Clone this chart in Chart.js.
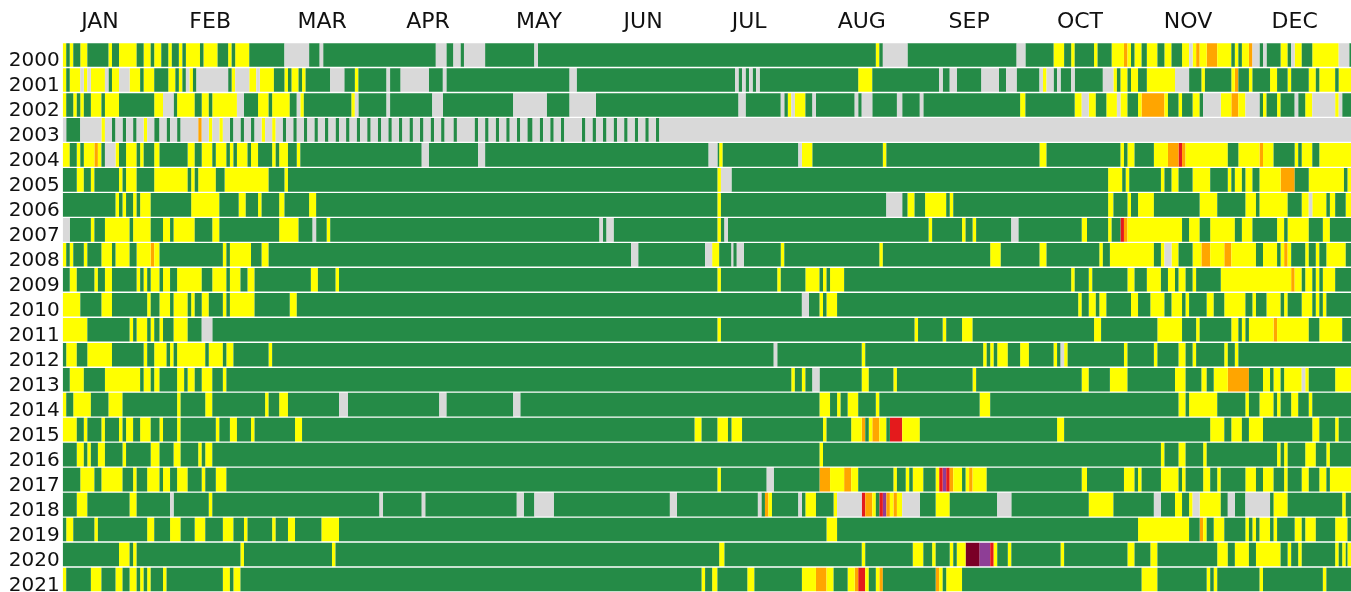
<!DOCTYPE html>
<html>
<head>
<meta charset="utf-8">
<title>Daily level calendar 2000-2021</title>
<script src="https://cdn.jsdelivr.net/npm/chart.js@4"></script>
<style>html,body{margin:0;padding:0;background:#fff}canvas{display:block}</style>
</head>
<body>
<canvas id="c" width="1351" height="592"></canvas>
<script>
const months = ["JAN","FEB","MAR","APR","MAY","JUN","JUL","AUG","SEP","OCT","NOV","DEC"];
const monthTicks = [10.6,41.9,73.7,103.8,135.3,164.9,195,227,257.5,289,319.7,350];
const years = ["2000","2001","2002","2003","2004","2005","2006","2007","2008","2009","2010","2011","2012","2013","2014","2015","2016","2017","2018","2019","2020","2021"];
const levelCodes = ["x","g","y","o","r","p","m"];
const levelColors = ["#d9d9d9","#258b47","#ffff00","#ffa500","#e41a1c","#8e3e96","#7a0026"];
// Each token: level code + day of year on which the run ends.
const runs2000 = "y1 g2 y3 g5 y7 g13 y14 g16 y21 g23 y25 g26 y28 g30 y31 g33 y34 g35 y39 g40 y44 g47 y48 g49 y53 g63 x70 g73 x74 g106 x109 g111 x113 g114 x120 g134 x135 g231 y232 g233 x240 g271 x273.5 g281.5 y284.5 g286.5 y287.5 g293 y294 g298 y301.5 o302.5 y303.5 g304.5 y306.5 g308 y311 g313 y315 g318 y320 x321 y322 o323 y325 o328 y332 g333 y334 g335 y337 o338 x340 g341 x342 g346 y348 g349 x350 y352 g355 y362.5 x365.5 g366";
const runs2001 = "y1 g2 y5 x6 y7 x8 y12 x13 g14 y16 x19 y22 g23 y26 g30 y32 g33 y34 g35 x36 y37 g38 x47 g48 y49 x53 y55 x56 y60 g63 y64 g65 y67 g68 y69 g76 x80 g83 y84 g92 x93 g96 x104 g108 x109 g144 x146 g191 x192 g193 x194 g195 x196 g197 x198 g226 y230 g249 x250 g252 x254 g261 x266 g268 x271 g277.5 x278.5 y279.5 x281.5 g282.5 x283.5 g286.5 x287.5 g295.5 x298.5 y299.5 g300.5 y302.5 g303.5 y305.5 g308 y316 x320 g323.5 y324.5 g332 y333 o334 g337 y338 g343 y345 g348 y349 g354 y356 g357 y361.5 g362.5 y366";
const runs2002 = "y1 g3 y4 g5 y6 g8 y11 g12 y16 g26 y28.5 x31.5 g32.5 y37.5 g39.5 y41.5 g42.5 y49.5 x51.5 g55.5 y58.5 g59.5 y64.5 g66.5 x67.5 y68.5 g82 y83 x84 g92 x93 g105 x108 g128 x137.5 g144 x151.5 g192 x194 g204 x205 g206 y207 x208 y211 g213 x214 g225 x226 g227 x230 g237 x238.5 g243.5 x244.5 g272 y273.5 g287.5 y289.5 x291.5 y293.5 g296.5 y299.5 x300.5 y302.5 g305.5 y306.5 o313 y314 g317 y318 g321 y323 g324 x329 y332 o334 y336 x340 g341 y342 g345 y346 g350 x351 g353 y355 x361.5 y362.5 x363.5 g366";
const runs2003 = "x1 g5 x11 y12 x14 g15 x17 g18 x20 g21 x23 y24 x26 g27.5 x29.5 g30.5 x32.5 g33.5 x38.5 o39.5 x41.5 y42.5 x44.5 y45.5 x47.5 g48.5 x50.5 g51.5 x53.5 g54.5 x56.5 y57.5 x59.5 y60.5 x62.5 g63.5 x65.5 g66.5 x68.5 g69.5 x71.5 g72.5 x74.5 g75.5 x77.5 g78.5 x80.5 g81.5 x83.5 g84.5 x86.5 g87.5 x89.5 g90.5 x92.5 g93.5 x95.5 g96.5 x98.5 g99.5 x101.5 g102.5 x104.5 g105.5 x107.5 g108.5 x111 g112 x117 g118 x120 g121 x123 g124 x126 g127 x129 g130 x132 g133.5 x135.5 g136.5 x138.5 g139.5 x141.5 g142.5 x147.5 g148.5 x150.5 g151.5 x153.5 g154.5 x156.5 g157.5 x159.5 g160.5 x162.5 g163.5 x165.5 g166.5 x168.5 g169.5 x366";
const runs2004 = "y2 g4 y5 g6 y9 o10 y11 g12 x15 y16 g18 y21 g22 y23 g26 y27.5 g35.5 y37.5 g39.5 y42.5 g43.5 y46.5 g47.5 y48.5 g49.5 y52.5 g53.5 y55.5 g59.5 y60.5 g61.5 y64 g66.5 y67.5 g102 x104 g118 x120 g183.5 x186 g186.5 y187.5 g209 x210 y213 g233 y234 g277.5 y279.5 g300.5 y301.5 g302.5 y304.5 g310 y314 o317 r318 o319 y331 g334 y340 o341 y344 g350 y351 g352 y355 g357 y366";
const runs2005 = "g4 y6 g8 y9 g16 y17 g18 y21 g26 y35.5 g36.5 y37.5 g38.5 y43.5 g46 y58.5 g63 y64 g186 y187 x190 g297 y301 g302 y303 g312 y313 g315 y317 g321 y326 g331 y332 g333 y335 g336 y338 g340 y346 o350 g354 y364 g365 y366";
const runs2006 = "g15 y16 g17 y18 g20 y21 g22 y25 g36.5 y44.5 g50 y52 g55.5 y56.5 g61.5 y63 g70 y72 g186 y187 g234 x238.5 g240 y242 g245 y251 g252 y253 g297 y298.5 g302.5 y303.5 g305.5 y310 g323 y328 g336 y339 g340 y348 g352 y354 x355 y359 g360 y361.5 g364.5 y366";
const runs2007 = "x2 g8 y9 g12 y19 g20 y25 g28.5 y30.5 g31.5 y37.5 g42.5 y44.5 g61.5 y67 g71 x72 g75 y76 g152.5 x153.5 g154.5 x156.5 g186 y187 g188 x189 g246 y247 g255.5 y256.5 g258.5 y259.5 g269.5 x271.5 g289.5 y291 g297 y298 g300.5 r301.5 o302.5 y318 g320 y323 g326 y333 g335 y338 g345 y347 g348 y354 g358 y360 g366";
const runs2008 = "y1 g2 y3 g6 y7 g11 y14 g15 y19 g21 y25 o26 y27.5 g45.5 y46.5 g47.5 y53.5 g56.5 y58.5 g161.5 x163.5 g182.5 x184.5 y186.5 g190 x190.5 g191.5 x193.5 g204 y205 g232 y233 g263.5 y266.5 g277.5 y279.5 g294.5 y295.5 g297.5 y310 g312 y313 x315 y317 g321 y323.5 o326 y330 o332 y339 g341 y345 g346 y347 o348 y349 g353 y354 g356 y357 g359 y364.5 g366";
const runs2009 = "g2 y4 g9 y10 g12 y14 g21 y22 g23 y24 g25 y27.5 g28.5 y30.5 g32.5 y39.5 g42.5 y46.5 g47.5 y50.5 g52.5 y54.5 g70.5 y72.5 g77.5 y78.5 g186 y187 g203 y204 g211 y215 g216 y217 g218 y222 g286.5 y287.5 g291.5 y292.5 g302.5 y304.5 g308 y312 g314 y316 g317 y319 g321 y322 g329 y349 o350 y352 g353 y355 g356 y357 g358 y361.5 g366";
const runs2010 = "y5 g11 y14 g24 y25 g27.5 y30.5 g31.5 y35.5 g36.5 y37.5 g39.5 y41.5 g45.5 y46.5 g47.5 y54.5 g64.5 y66.5 g210 x212 g215 y216 g217 y220 g288.5 y289.5 g291.5 y293.5 g294.5 y296.5 g303.5 y305.5 g309 y313 g315 y318 g319 y320 g325 y327 g330 y336 g338 y339 g342 y346 g347 y348 g352 y355 g356 y357 g358 y359 g366";
const runs2011 = "y7 g19 y20 g21 y24 g25 y26 g27.5 y28.5 g31.5 y35.5 g39.5 x42.5 g186 y187 g242 y243 g250 y251 g255.5 y258.5 g293 y295 g311 y318 g322 y323 g332 y334 g335 y336 g337 y344 o345 y354 g357 y363.5 g366";
const runs2012 = "g1 y4 g7 y14 g23 y24 g26 y29.5 g30.5 y31.5 g32.5 y40.5 g41.5 y45.5 g46.5 y48.5 g58.5 y59.5 g202 x203 g227 y228 g261.5 y262.5 g263.5 y264.5 g265.5 y268.5 g272 y274.5 g281.5 y282.5 g283.5 x284.5 y285.5 g301.5 y302.5 g310 y311 g317 y319 g321 y322 g330 y331 g333 y334 g366";
const runs2013 = "g2 y6 g12 y22 g23 y25 g26 y27.5 g32.5 y34.5 g35.5 y37.5 g39.5 y42.5 g45.5 y46.5 g207 y208 g210 y211 g213 x215 g227 y229 g236 y237 g258.5 y259.5 g289.5 y291.5 g297.5 y302.5 g316 y319 g323.5 y325 g327 y331 o337 g341 y343 g344 y346 g347 y352 x353 y354 g361.5 y366";
const runs2014 = "y1 g3 y8 g13 y17 g32.5 y33.5 g40.5 y42.5 g57.5 y58.5 g61.5 y64 g78.5 x81 g107 x109 g128 x130 g215 y218 g220 y221 g223 y226 g231 y232 g260.5 y263.5 g317 y319 g320 y328 g336 y337 g340 y344 g345 y346 g349 y351 g354 y355 g366";
const runs2015 = "y4 g6 y7 g11 y12 g16 y17 g18 y20 g22 y25 g27.5 y28.5 g32.5 y33.5 g43.5 y44.5 g47.5 y49.5 g53.5 y54.5 g66 y68 g179.5 y181.5 g186 y189 g190 y193 g216 y217 g224 y227 o228 g229 y230 o232 y234 g235 r238.5 y243.5 g282.5 y284.5 g326 y330 g332 y335 g337 y341 g355 y357 g361.5 y362.5 g366";
const runs2016 = "g4 y6 g7 y8 g10 y12 g17 y18 g25 y27.5 g31.5 y33.5 g38.5 y39.5 g40.5 y42.5 g215 y216 g312 y313 g317 y319 g324 y325 g345 y346 g347 y348 g353 y356 g359 y360 g366";
const runs2017 = "g5 y9 g11 y17 g20 y21 g24 y27.5 g28.5 y30.5 g32.5 y35.5 g39.5 y40.5 g43.5 y46.5 g186 y187 g200 x202 g215 o218 y222 o224 y226 g236 y237 g239.5 y240.5 g241.5 y244.5 g248 y249 r250 p251 r252 o253 y255.5 g256.5 y257.5 o258.5 y262.5 g289.5 y291 g301.5 y304.5 g305.5 y306.5 g312 y317 g318 y319 g324 y326 g328 y329 g336 y339 g341 y344 g347 y348 g352 y354 g357 y359 g360 y366";
const runs2018 = "g4 y7 g19 y21 g30.5 x31.5 g41.5 y42.5 g90 x91 g102 x103 g129 x131 g134 x139.5 g172.5 x174.5 g197.5 x198.5 g199.5 o200.5 y201.5 g209 x210 g211 y214 g219 y220 x227 r228 o230 y231 g232 r233 p234 o235 y236 o237 y238.5 x243.5 g248 y252 g265.5 x269.5 g291.5 y298.5 g310 x312 g316 y318 g320 y321 x323 y329 g331 x333 g336 x343 g344 y348 g363.5 y364.5 g366";
const runs2019 = "g1 y3 g9 y10 g24 y26 g30.5 y33.5 g37.5 y40.5 g45.5 y48.5 g51.5 y52.5 g59.5 y60.5 g64 y66 g73.5 y78.5 g217 y220 g305.5 y320 g323 o324 y325 g327 y330 g336 y337 g338 y339 g340 y343 g344 y345 g350 y352 g353 y356 g361.5 y365 g366";
const runs2020 = "g16 y19 g20 y21 g50.5 y51.5 g76.5 y77.5 g186.5 y188 g227 y228 g241.5 y244.5 g247 y248 g252 y253 g254 y256.5 m260.5 p263.5 r264.5 y265.5 g268.5 y269.5 g283.5 y284.5 g302.5 y304.5 g309 y311 g328 y331 g333 y337 g339 y346 g348 y349 g351 y352 g361.5 y362.5 g363.5 y364.5 g365 y366";
const runs2021 = "y1 g8 y11 g15 y17 g19 y21 g22 y23 g24 y25 g28.5 y29.5 g45.5 y47.5 g48.5 y50.5 g181.5 y182.5 g184.5 y186 g194.5 y196.5 g210 y214 o217 y219 g223 y225 o226 r228 y229 g231 y232 o233 g248 o249 y250 g251 y255.5 g306.5 y311 g325 y326 g327 y328 g340 y341 g358 y359 g366";

const allRuns = [runs2000,runs2001,runs2002,runs2003,runs2004,runs2005,runs2006,runs2007,runs2008,runs2009,runs2010,runs2011,runs2012,runs2013,runs2014,runs2015,runs2016,runs2017,runs2018,runs2019,runs2020,runs2021];

const datasets = levelCodes.map((code,i)=>({
  label: code, data: [], backgroundColor: levelColors[i], borderWidth: 0,
  grouped: false, barPercentage: 1, categoryPercentage: 0.945, parsing: {xAxisKey:"x", yAxisKey:"y"}
}));
allRuns.forEach((runs,row)=>{
  let start = 0;
  runs.split(" ").forEach(tok=>{
    const end = parseFloat(tok.slice(1));
    datasets[levelCodes.indexOf(tok[0])].data.push({x:[start,end], y:years[row]});
    start = end;
  });
});

function noScalePadding(s){s.paddingLeft=0;s.paddingRight=0;s.paddingTop=0;s.paddingBottom=0;}

new Chart(document.getElementById("c"),{
  type:"bar",
  data:{labels:years,datasets},
  options:{
    indexAxis:"y",responsive:false,animation:false,
    layout:{padding:0},
    plugins:{legend:{display:false},tooltip:{enabled:false},title:{display:false}},
    scales:{
      x:{type:"linear",position:"top",min:0,max:366,
        grid:{display:false,drawTicks:false},border:{display:false},
        afterBuildTicks(s){s.ticks=monthTicks.map(v=>({value:v}));},
        afterFit(s){s.height=42.5;noScalePadding(s);},
        ticks:{autoSkip:false,maxRotation:0,padding:7,color:"#111",
          font:{family:"'DejaVu Sans'",size:22},
          callback(v,i){return months[i];}}
      },
      y:{type:"category",labels:years,offset:true,
        grid:{display:false,drawTicks:false},border:{display:false},
        afterFit(s){s.width=62.7;noScalePadding(s);},
        ticks:{autoSkip:false,padding:3,color:"#111",labelOffset:6,
          font:{family:"'DejaVu Sans'",size:20}}
      }
    }
  }
});
</script>
</body>
</html>
